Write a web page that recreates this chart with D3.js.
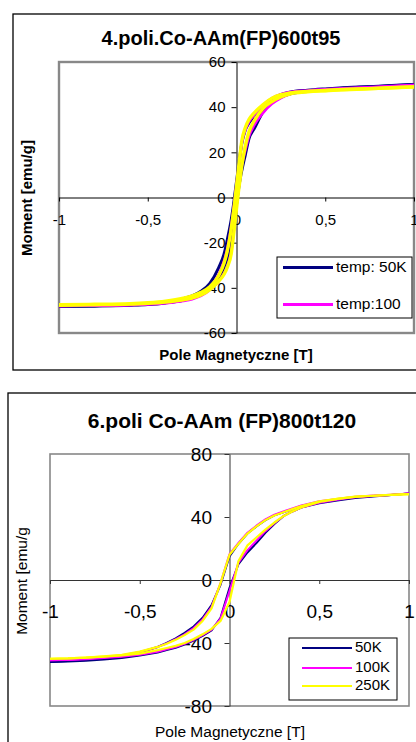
<!DOCTYPE html>
<html>
<head>
<meta charset="utf-8">
<script src="https://cdnjs.cloudflare.com/ajax/libs/d3/7.8.5/d3.min.js"></script>
<style>
  html, body { margin: 0; padding: 0; background: #fff; }
  svg { display: block; font-family: "Liberation Sans", Arial, sans-serif; }
</style>
</head>
<body>
<script>
// ---- chart 1 data: 4.poli.Co-AAm(FP)600t95 ----
const title1 = '4.poli.Co-AAm(FP)600t95';
const field1 = [-1, -0.8, -0.6, -0.5, -0.4, -0.3, -0.25, -0.2, -0.15, -0.1, -0.07, -0.05, -0.03, -0.02, -0.01, 0,
  0.01, 0.02, 0.03, 0.05, 0.07, 0.1, 0.15, 0.2, 0.25, 0.3, 0.4, 0.5, 0.6, 0.8, 1];
// upper = descending branch (coming from +1 T), lower = ascending branch
const c1BlueUpper = [-48.2, -48, -47.6, -47.2, -46.3, -44.8, -43.6, -41.5, -38, -31, -25, -18, -10, -5, 1, 7,
  13, 19, 24, 30, 33, 36, 40.5, 43.5, 45.5, 46.6, 47.5, 48.1, 48.6, 49.3, 50];
const c1BlueLower = [-48.2, -48, -47.7, -47.4, -46.7, -45.5, -44.5, -43, -40.5, -36, -32, -28, -21, -15, -9, -3,
  3, 8, 12, 19, 26, 30.5, 38, 42.5, 44.5, 45.8, 47, 47.8, 48.4, 49.2, 50];
const c1MagUpper = [-48, -47.8, -47.5, -47.1, -46.4, -45.2, -44.2, -42.5, -39.8, -34, -28, -22, -13, -7, -1, 6,
  12, 18, 24, 30, 33.5, 36.5, 41, 44, 45.7, 46.7, 47.4, 47.9, 48.3, 49, 49.8];
const c1MagLower = [-48, -47.9, -47.7, -47.4, -46.8, -45.8, -45, -43.6, -41, -37, -33.5, -30, -24, -18, -11, -4,
  3, 9, 14, 21, 27, 32, 37.5, 41.5, 44, 45.8, 47, 47.6, 48.1, 48.9, 49.8];
const c1YelUpper = [-47.5, -47.3, -47, -46.6, -45.9, -44.6, -43.6, -42, -39.5, -34.5, -29, -23, -14, -8, -2, 5,
  12, 19, 25, 31, 34.5, 37.5, 41.2, 44, 45.5, 46.3, 47, 47.4, 47.8, 48.4, 49];
const c1YelLower = [-47.7, -47.5, -47.2, -46.9, -46.3, -45.3, -44.5, -43.2, -40.8, -37, -34, -30.5, -25, -19, -12, -5,
  2, 8, 14, 23, 29, 34, 39.5, 42.5, 44.5, 45.8, 46.8, 47.3, 47.7, 48.3, 49];
const yTicks1 = [-60, -40, -20, 0, 20, 40, 60];
const legend1 = ['temp: 50K', 'temp:100'];

// ---- chart 2 data: 6.poli Co-AAm (FP)800t120 ----
const title2 = '6.poli Co-AAm (FP)800t120';
const field2 = [-1, -0.9, -0.8, -0.7, -0.6, -0.5, -0.4, -0.35, -0.3, -0.25, -0.2, -0.15, -0.1, -0.05, 0,
  0.05, 0.1, 0.15, 0.2, 0.25, 0.3, 0.35, 0.4, 0.5, 0.6, 0.7, 0.8, 0.9, 1];
const c2BlueUpper = [-52, -51.5, -50.8, -49.8, -48.3, -46, -42.5, -40, -37, -33.5, -29.5, -24, -16, -3, 15,
  23, 29.5, 34, 38, 41, 43, 45, 47, 49.5, 51, 52.5, 53.3, 54, 55];
const c2BlueLower = [-52, -51.8, -51.3, -50.5, -49.5, -48, -46, -44.5, -43, -41, -38.5, -35.5, -32, -24, -5,
  10, 17.5, 23.5, 30, 35.5, 40.5, 43.5, 46, 48.7, 50.5, 52, 53, 54, 55];
const c2MagUpper = [-51, -50.6, -50, -49, -47.8, -45.7, -42.5, -40.3, -37.5, -34.5, -30.5, -25, -17, -2, 16.5,
  23.5, 30, 34.5, 38.5, 41.5, 43.5, 45.5, 47.3, 50, 51.5, 52.8, 53.6, 54.2, 55];
const c2MagLower = [-51, -50.8, -50.3, -49.6, -48.8, -47.5, -45.5, -44, -42.5, -40.5, -38, -35, -31.5, -24.5, -7,
  11, 19, 25, 31, 36, 40.5, 43.5, 46, 49, 51, 52.5, 53.3, 54, 55];
const c2YelUpper = [-50, -49.8, -49.3, -48.5, -47.5, -45.5, -42.5, -40.5, -38, -35, -31.5, -26, -18, -2, 16,
  23, 29.5, 34, 38, 41, 43, 45, 47, 50, 51.5, 52.8, 53.5, 54, 54.5];
const c2YelLower = [-50, -49.8, -49.3, -48.6, -47.8, -46.7, -44.5, -43.2, -41.8, -40, -37.5, -34.5, -31, -26, -14,
  12, 22, 27, 32, 36.5, 40.5, 43.5, 46, 49.5, 51.5, 53, 53.5, 54, 54.5];
const yTicks2 = [-80, -40, 0, 40, 80];
const legend2 = ['50K', '100K', '250K'];

const xTicks = [-1, -0.5, 0, 0.5, 1];
const xLabel = 'Pole Magnetyczne [T]';
const colors = ['#000080', '#ff00ff', '#ffff00'];

const svg = d3.select('body').append('svg')
  .attr('width', 416)
  .attr('height', 742);

const fmt = v => String(v).replace('.', ',');

function drawPanel(p) {
  const g = svg.append('g');

  // outer chart frame
  g.append('rect')
    .attr('x', p.frame[0]).attr('y', p.frame[1])
    .attr('width', p.frame[2]).attr('height', p.frame[3])
    .attr('fill', '#fff').attr('stroke', '#000').attr('stroke-width', 1.3);

  const x = d3.scaleLinear().domain([-1, 1]).range([p.left, p.right]);
  const y = d3.scaleLinear().domain(p.yDomain).range([p.bottom, p.top]);

  // plot area
  g.append('rect')
    .attr('x', p.left).attr('y', p.top)
    .attr('width', p.right - p.left).attr('height', p.bottom - p.top)
    .attr('fill', '#fff').attr('stroke', '#888').attr('stroke-width', p.plotStroke);

  const yAxis = g.append('g')
    .attr('transform', `translate(${x(0)},0)`)
    .call(d3.axisLeft(y).tickValues(p.yTicks).tickFormat(fmt)
      .tickSize(5).tickSizeOuter(0).tickPadding(p.yPad));
  const xAxis = g.append('g')
    .attr('transform', `translate(0,${y(0)})`)
    .call(d3.axisBottom(x).tickValues(xTicks).tickFormat(fmt)
      .tickSize(4).tickSizeOuter(0).tickPadding(p.xPad));
  [yAxis, xAxis].forEach(a => {
    a.selectAll('path, line').attr('stroke', p.axisColor).attr('stroke-width', 1);
    a.selectAll('text').attr('fill', '#000')
      .style('font-family', '"Liberation Sans", Arial, sans-serif')
      .style('font-size', p.tickFont + 'px');
  });

  // clip for the loops
  const clipId = 'clip' + p.id;
  svg.append('clipPath').attr('id', clipId)
    .append('rect')
    .attr('x', p.left).attr('y', p.top)
    .attr('width', p.right - p.left).attr('height', p.bottom - p.top);

  const line = d3.line()
    .x(d => x(d[0]))
    .y(d => y(d[1]))
    .curve(p.curve);

  const plot = g.append('g').attr('clip-path', `url(#${clipId})`);
  p.series.forEach((s, i) => {
    const down = p.field.map((h, j) => [h, s.upper[j]]).reverse();
    const up = p.field.map((h, j) => [h, s.lower[j]]);
    [down, up].forEach(branch => {
      plot.append('path')
        .attr('d', line(branch))
        .attr('fill', 'none')
        .attr('stroke', colors[i])
        .attr('stroke-width', p.lineWidth[i])
        .attr('stroke-linejoin', 'round');
    });
  });

  // titles
  g.append('text')
    .attr('x', p.titlePos[0]).attr('y', p.titlePos[1])
    .attr('text-anchor', 'middle')
    .style('font-size', p.titleFont + 'px')
    .style('font-weight', 'bold')
    .text(p.title);

  g.append('text')
    .attr('x', p.xLabelPos[0]).attr('y', p.xLabelPos[1])
    .attr('text-anchor', 'middle')
    .style('font-size', p.labelFont + 'px')
    .style('font-weight', p.labelWeight)
    .text(xLabel);

  g.append('text')
    .attr('transform', `translate(${p.yLabelPos[0]},${p.yLabelPos[1]}) rotate(-90)`)
    .attr('text-anchor', 'middle')
    .attr('dominant-baseline', 'middle')
    .style('font-size', p.labelFont + 'px')
    .style('font-weight', p.labelWeight)
    .text(p.yLabel);

  // legend
  const lg = g.append('g');
  lg.append('rect')
    .attr('x', p.legendBox[0]).attr('y', p.legendBox[1])
    .attr('width', p.legendBox[2]).attr('height', p.legendBox[3])
    .attr('fill', '#fff').attr('stroke', '#000').attr('stroke-width', 1);
  p.legend.forEach((name, i) => {
    const ly = p.legendRows[i];
    lg.append('line')
      .attr('x1', p.legendLine[0]).attr('x2', p.legendLine[1])
      .attr('y1', ly).attr('y2', ly)
      .attr('stroke', colors[i]).attr('stroke-width', p.legendStroke);
    lg.append('text')
      .attr('x', p.legendLine[1] + 3).attr('y', ly)
      .attr('dominant-baseline', 'middle')
      .style('font-size', p.legendFont + 'px')
      .text(name);
  });
}

drawPanel({
  id: 1,
  frame: [13, 14, 420, 356],
  left: 59, right: 414, top: 62, bottom: 333,
  yDomain: [-60, 60], yTicks: yTicks1,
  field: field1,
  series: [
    { upper: c1BlueUpper, lower: c1BlueLower },
    { upper: c1MagUpper, lower: c1MagLower },
    { upper: c1YelUpper, lower: c1YelLower }
  ],
  curve: d3.curveMonotoneX,
  lineWidth: [3, 2.6, 3.4],
  plotStroke: 2.4, axisColor: '#000',
  tickFont: 15, yPad: 6, xPad: 13,
  title: title1, titlePos: [221, 45], titleFont: 20,
  xLabelPos: [236, 360], yLabelPos: [28, 198], yLabel: 'Moment [emu/g]',
  labelFont: 15, labelWeight: 'bold',
  legend: legend1, legendBox: [277, 257, 135, 61], legendRows: [267.5, 304.5],
  legendLine: [283, 333], legendStroke: 3, legendFont: 15.5
});

drawPanel({
  id: 2,
  frame: [8, 393, 420, 360],
  left: 50, right: 409, top: 454, bottom: 706,
  yDomain: [-80, 80], yTicks: yTicks2,
  field: field2,
  series: [
    { upper: c2BlueUpper, lower: c2BlueLower },
    { upper: c2MagUpper, lower: c2MagLower },
    { upper: c2YelUpper, lower: c2YelLower }
  ],
  curve: d3.curveLinear,
  lineWidth: [2, 2, 2.2],
  plotStroke: 1.6, axisColor: '#333',
  tickFont: 19, yPad: 12.5, xPad: 21,
  title: title2, titlePos: [222, 428], titleFont: 21,
  xLabelPos: [230, 737], yLabelPos: [23, 581], yLabel: 'Moment [emu/g',
  labelFont: 15.5, labelWeight: 'normal',
  legend: legend2, legendBox: [289, 638, 108, 62], legendRows: [648, 668, 686],
  legendLine: [302, 352], legendStroke: 1.8, legendFont: 15
});
</script>
</body>
</html>
